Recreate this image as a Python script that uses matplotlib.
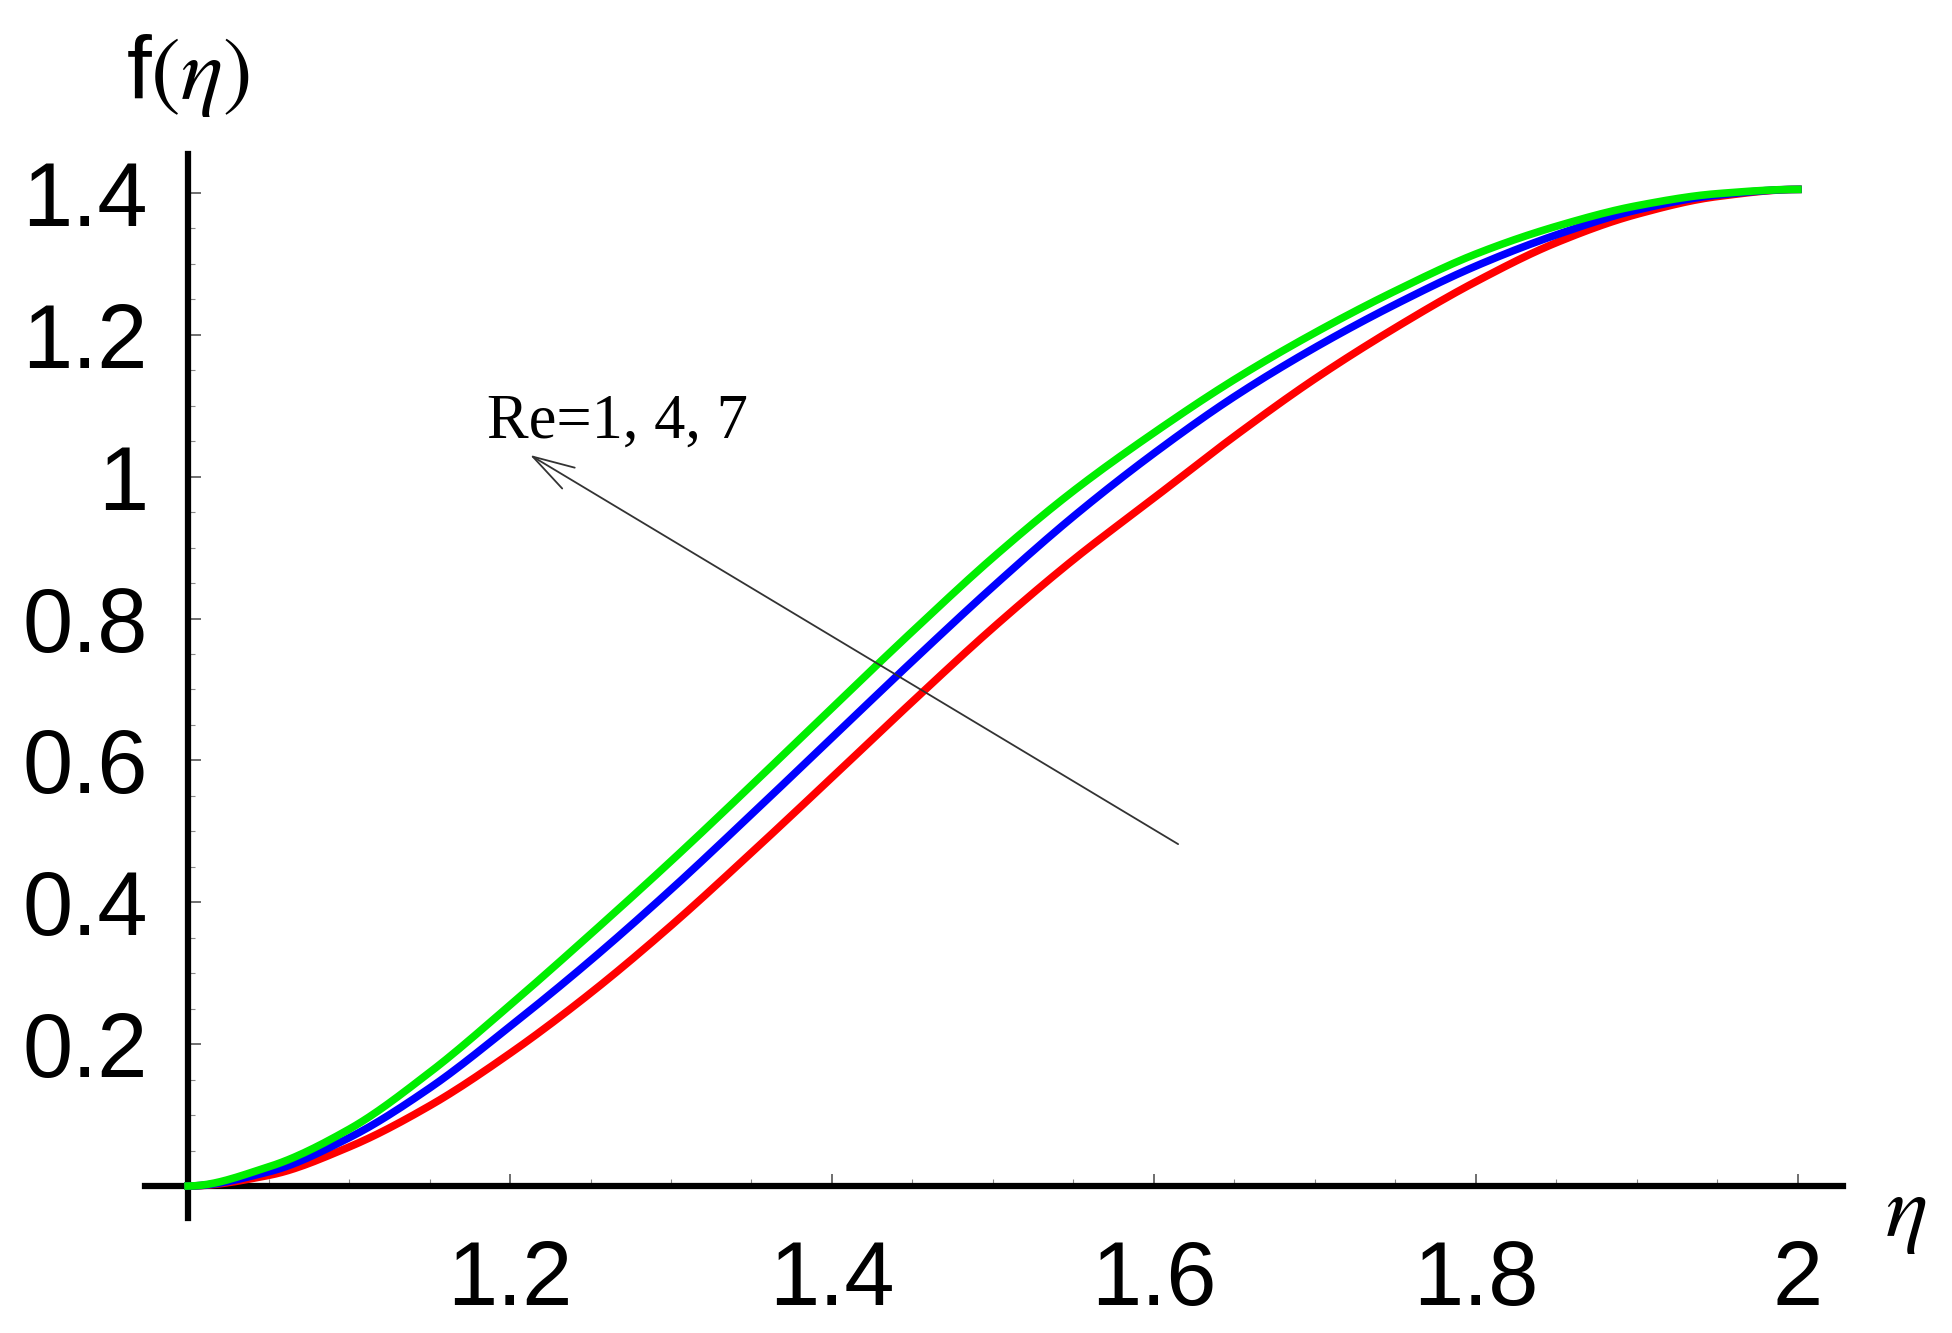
import numpy as np
import matplotlib
matplotlib.use("Agg")
import matplotlib.pyplot as plt
from matplotlib.ticker import FixedLocator

# eta grid and f(eta) for Re = 1, 4, 7
eta = [1.00, 1.05, 1.10, 1.15, 1.20, 1.25, 1.30, 1.35, 1.40, 1.45, 1.50,
       1.55, 1.60, 1.65, 1.70, 1.75, 1.80, 1.85, 1.90, 1.95, 2.00]
f_re1 = [0.000, 0.015, 0.055, 0.113, 0.187, 0.272, 0.367, 0.470, 0.576, 0.683, 0.787,
         0.883, 0.970, 1.057, 1.138, 1.210, 1.275, 1.330, 1.370, 1.395, 1.405]
f_re4 = [0.000, 0.020, 0.068, 0.138, 0.225, 0.318, 0.418, 0.524, 0.632, 0.740, 0.845,
         0.944, 1.033, 1.113, 1.182, 1.243, 1.297, 1.341, 1.376, 1.397, 1.405]
f_re7 = [0.000, 0.027, 0.080, 0.160, 0.255, 0.355, 0.458, 0.565, 0.674, 0.782, 0.886,
         0.980, 1.062, 1.137, 1.203, 1.262, 1.314, 1.353, 1.382, 1.399, 1.405]

xticks = [1.2, 1.4, 1.6, 1.8, 2]
xtick_labels = ["1.2", "1.4", "1.6", "1.8", "2"]
yticks = [0.2, 0.4, 0.6, 0.8, 1.0, 1.2, 1.4]
ytick_labels = ["0.2", "0.4", "0.6", "0.8", "1", "1.2", "1.4"]


def pchip(x, y, xs):
    # monotone cubic interpolation, just to draw the read-off points smoothly
    x = np.asarray(x); y = np.asarray(y)
    h = np.diff(x)
    d = np.diff(y) / h
    m = np.zeros_like(y)
    for i in range(1, len(x) - 1):
        if d[i - 1] * d[i] > 0:
            w1 = 2 * h[i] + h[i - 1]
            w2 = h[i] + 2 * h[i - 1]
            m[i] = (w1 + w2) / (w1 / d[i - 1] + w2 / d[i])
    idx = np.clip(np.searchsorted(x, xs) - 1, 0, len(x) - 2)
    t = (xs - x[idx]) / h[idx]
    h00 = 2 * t**3 - 3 * t**2 + 1
    h10 = t**3 - 2 * t**2 + t
    h01 = -2 * t**3 + 3 * t**2
    h11 = t**3 - t**2
    return h00 * y[idx] + h10 * h[idx] * m[idx] + h01 * y[idx + 1] + h11 * h[idx] * m[idx + 1]


plt.rcParams["font.family"] = ["Liberation Sans", "DejaVu Sans"]
plt.rcParams["mathtext.fontset"] = "stix"

fig = plt.figure(figsize=(19.52, 13.33), dpi=100)
ax = fig.add_axes([0, 0, 1, 1])
ax.set_xlim(0.8832, 2.0957)
ax.set_ylim(-0.2072, 1.672)

xs = np.linspace(1, 2, 500)
for ys, col in [(f_re1, "#ff0000"), (f_re4, "#0000ff"), (f_re7, "#00ee00")]:
    ax.plot(xs, pchip(eta, ys, xs), color=col, lw=5.5, zorder=3)

for side in ["top", "right"]:
    ax.spines[side].set_visible(False)
ax.spines["left"].set_position(("data", 1))
ax.spines["bottom"].set_position(("data", 0))
ax.spines["left"].set_bounds(-0.045, 1.455)
ax.spines["bottom"].set_bounds(0.973, 2.028)
ax.spines["left"].set_linewidth(4.5)
ax.spines["bottom"].set_linewidth(4.5)

ax.set_xticks(xticks)
ax.set_xticklabels(xtick_labels)
ax.set_yticks(yticks)
ax.set_yticklabels(ytick_labels)
ax.xaxis.set_minor_locator(FixedLocator(np.arange(1.05, 2.0, 0.05)))
ax.yaxis.set_minor_locator(FixedLocator(np.arange(0.05, 1.45, 0.05)))
ax.tick_params(which="major", direction="in", length=9, width=1.2, color="#555555",
               labelsize=65)
ax.tick_params(which="minor", direction="in", length=5, width=0.8, color="#888888")
ax.tick_params(axis="x", which="major", pad=38)
ax.tick_params(axis="y", which="major", pad=29)

ax.text(1.0, 1.565, r"f$(\eta)$", fontsize=64, ha="center", va="center")
ax.text(2.067, -0.04, r"$\eta$", fontsize=64, ha="center", va="center")

ax.annotate("", xy=(1.2124, 1.0306), xytext=(1.615, 0.482),
            arrowprops=dict(arrowstyle="->,head_length=1.2,head_width=0.35",
                            mutation_scale=25, lw=1.3, color="#333333",
                            shrinkA=0, shrinkB=0))
ax.text(1.186, 1.055, "Re=1, 4, 7", fontsize=45, family="Liberation Serif",
        ha="left", va="baseline")

fig.savefig("out.png", dpi=100)
